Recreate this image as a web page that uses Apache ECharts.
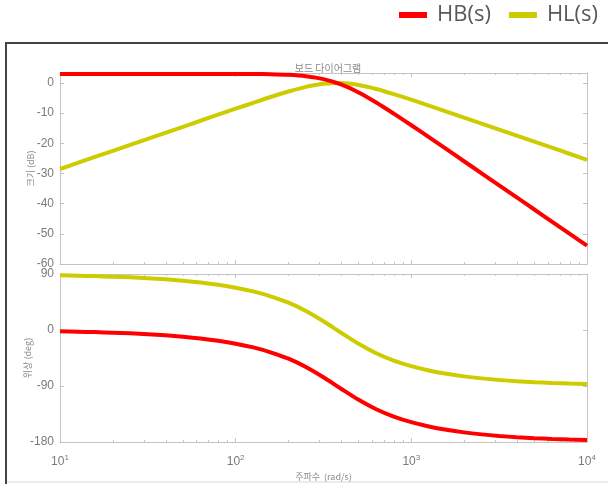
<!DOCTYPE html>
<html>
<head>
<meta charset="utf-8">
<script src="https://cdn.jsdelivr.net/npm/echarts@6/dist/echarts.min.js"></script>
<style>
  html, body { margin: 0; padding: 0; background: #fff; }
  #chart { width: 608px; height: 484px; }
</style>
</head>
<body>
<div id="chart"></div>
<script>
// Frequency samples (rad/s), ten per decade
const freq = [10, 12.6, 15.8, 20, 25.1, 31.6, 39.8, 50.1, 63.1, 79.4,
  100, 126, 158, 200, 251, 316, 398, 501, 631, 794,
  1000, 1259, 1585, 1995, 2512, 3162, 3981, 5012, 6310, 7943, 10000];

// Magnitude (dB)
const hbMag = [3.01, 3.01, 3.01, 3.01, 3.01, 3.01, 3.01, 3.01, 3.01, 3.00,
  2.99, 2.96, 2.88, 2.68, 2.23, 1.26, -0.50, -3.14, -6.46, -10.15,
  -14.02, -17.97, -21.95, -25.94, -29.94, -33.94, -37.94, -41.94, -45.94, -49.94, -53.94];
const hlMag = [-28.52, -26.52, -24.52, -22.52, -20.52, -18.52, -16.52, -14.53, -12.52, -10.53,
  -8.54, -6.57, -4.65, -2.84, -1.30, -0.27, -0.03, -0.67, -1.99, -3.68,
  -5.55, -7.50, -9.48, -11.47, -13.47, -15.46, -17.46, -19.46, -21.46, -23.46, -25.46];

// Phase (deg)
const hbPhase = [-2.15, -2.71, -3.41, -4.29, -5.41, -6.82, -8.59, -10.84, -13.69, -17.32,
  -21.98, -28.00, -35.85, -46.14, -59.48, -76.00, -94.41, -112.21, -127.28, -139.10,
  -148.14, -155.05, -160.37, -164.51, -167.75, -170.30, -172.30, -173.89, -175.15, -176.15, -176.94];
const hlPhase = [87.85, 87.29, 86.59, 85.71, 84.59, 83.18, 81.41, 79.16, 76.31, 72.68,
  68.02, 62.00, 54.15, 43.86, 30.52, 14.00, -4.41, -22.21, -37.28, -49.10,
  -58.14, -65.05, -70.37, -74.51, -77.75, -80.30, -82.30, -83.89, -85.15, -86.15, -86.94];

const seriesNames = ['HB(s)', 'HL(s)'];
const seriesColors = ['#ff0000', '#cccc00'];

const magTicks = [0, -10, -20, -30, -40, -50, -60];
const phaseTicks = [90, 0, -90, -180];

const pairs = (ys) => freq.map((f, i) => [f, ys[i]]);

const boxColor = '#c4c4c4';
const labelColor = '#7a7a7a';
const cjk = '"Noto Sans CJK KR", "Noto Sans", sans-serif';

function logAxis(gridIndex, position, showLabels, name) {
  return {
    type: 'log', logBase: 10, min: 10, max: 10000, gridIndex, position,
    axisLine: { show: true, onZero: false, lineStyle: { color: boxColor, width: 1 } },
    axisTick: { show: true, inside: true, length: 4, lineStyle: { color: boxColor } },
    minorTick: { show: true, splitNumber: 9, length: 2, lineStyle: { color: boxColor } },
    splitLine: { show: false },
    axisLabel: showLabels ? {
      show: true, margin: 12,
      formatter: (v) => '{b|10}{s|' + Math.round(Math.log10(v)) + '}',
      rich: {
        b: { fontSize: 12, color: labelColor, fontFamily: 'Liberation Sans, sans-serif' },
        s: { fontSize: 8, color: labelColor, padding: [0, 0, 8, 0], fontFamily: 'Liberation Sans, sans-serif' }
      }
    } : { show: false },
    name: name || '',
    nameLocation: 'middle', nameGap: 30, nameMoveOverlap: false,
    nameTextStyle: { fontSize: 9, color: '#8a8a8a', fontFamily: cjk }
  };
}

function valAxis(gridIndex, position, min, max, interval, ticks, showLabels, name, nameGap) {
  return {
    type: 'value', gridIndex, position, min, max, interval,
    axisLine: { show: true, onZero: false, lineStyle: { color: boxColor, width: 1 } },
    axisTick: { show: true, inside: true, length: 4, lineStyle: { color: boxColor } },
    splitLine: { show: false },
    axisLabel: showLabels ? {
      show: true, margin: 6, fontSize: 12, color: labelColor,
      fontFamily: 'Liberation Sans, sans-serif',
      showMaxLabel: ticks.includes(max),
      formatter: (v) => ticks.includes(v) ? String(v) : ''
    } : { show: false },
    name: name || '',
    nameLocation: 'middle', nameGap: nameGap || 30, nameMoveOverlap: false,
    nameTextStyle: { fontSize: 9, color: '#8a8a8a', fontFamily: cjk }
  };
}

const chart = echarts.init(document.getElementById('chart'), null, { renderer: 'canvas' });

const lineSeries = (name, color, data, xi, yi) => ({
  name, type: 'line', data, xAxisIndex: xi, yAxisIndex: yi,
  showSymbol: false, smooth: 0.3, clip: false,
  lineStyle: { color, width: 4 }, itemStyle: { color },
  emphasis: { disabled: true }, animation: false
});

chart.setOption({
  animation: false,
  backgroundColor: '#ffffff',
  title: {
    text: '보드 다이어그램',
    left: 323, top: 58, textAlign: 'center',
    textStyle: { fontSize: 10, fontWeight: 'normal', color: '#8a8a8a', fontFamily: cjk }
  },
  legend: {
    data: seriesNames,
    left: 399, top: 4, padding: 0,
    icon: 'rect', itemWidth: 28, itemHeight: 6, itemGap: 18,
    textStyle: { fontSize: 22, color: '#595959', fontFamily: '"Open Sans", sans-serif', padding: [0, 0, 0, 5] }
  },
  graphic: [
    { type: 'line', shape: { x1: 6, y1: 43, x2: 608, y2: 43 }, style: { stroke: '#444', lineWidth: 2 } },
    { type: 'line', shape: { x1: 6, y1: 42, x2: 6, y2: 484 }, style: { stroke: '#444', lineWidth: 2 } },
    { type: 'line', shape: { x1: 7, y1: 482, x2: 608, y2: 482 }, style: { stroke: '#d8d8d8', lineWidth: 1 } }
  ],
  grid: [
    { left: 60, top: 73, width: 527, height: 191 },
    { left: 60, top: 274, width: 527, height: 168 }
  ],
  xAxis: [
    logAxis(0, 'bottom', false),
    logAxis(0, 'top', false),
    logAxis(1, 'bottom', true, '주파수  (rad/s)'),
    logAxis(1, 'top', false)
  ],
  yAxis: [
    valAxis(0, 'left', -60, 3.3, 10, magTicks, true, '크기 (dB)', 25),
    valAxis(0, 'right', -60, 3.3, 10, magTicks, false),
    valAxis(1, 'left', -180, 90, 90, phaseTicks, true, '위상 (deg)', 28),
    valAxis(1, 'right', -180, 90, 90, phaseTicks, false)
  ],
  series: [
    lineSeries(seriesNames[1], seriesColors[1], pairs(hlMag), 0, 0),
    lineSeries(seriesNames[0], seriesColors[0], pairs(hbMag), 0, 0),
    lineSeries(seriesNames[1], seriesColors[1], pairs(hlPhase), 2, 2),
    lineSeries(seriesNames[0], seriesColors[0], pairs(hbPhase), 2, 2)
  ]
});
</script>
</body>
</html>
